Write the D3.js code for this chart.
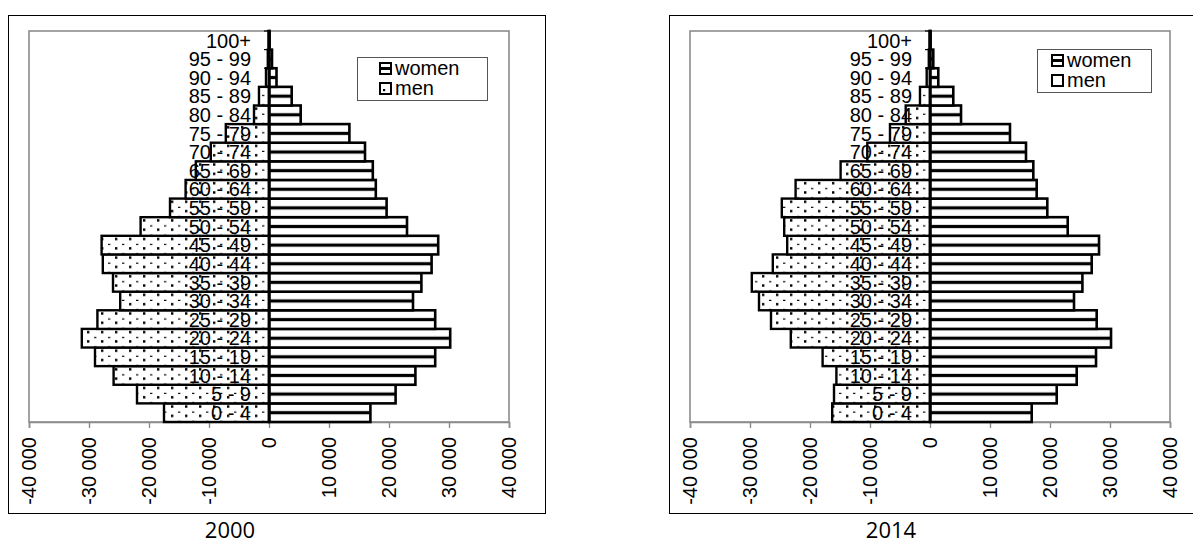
<!DOCTYPE html>
<html>
<head>
<meta charset="utf-8">
<script src="https://cdn.jsdelivr.net/npm/d3@7"></script>
<style>
  html, body { margin: 0; padding: 0; background: #fff; }
  svg { display: block; }
</style>
</head>
<body>
<svg id="chart" width="1193" height="545"></svg>
<script>
// ---- data ----
const ageGroups = ["0 - 4","5 - 9","10 - 14","15 - 19","20 - 24","25 - 29","30 - 34","35 - 39","40 - 44","45 - 49","50 - 54","55 - 59","60 - 64","65 - 69","70 - 74","75 - 79","80 - 84","85 - 89","90 - 94","95 - 99","100+"];
const men2000   = [17500,22000,25900,29000,31200,28600,24800,26000,27700,27900,21400,16500,13900,12200,9700,7200,2500,1670,500,200,80];
const women2000 = [16900,21100,24400,27700,30200,27700,24000,25400,27100,28200,23000,19600,17800,17300,16000,13400,5280,3780,1250,500,100];
const men2014   = [16300,16000,15600,17900,23200,26500,28500,29700,26200,23800,24300,24700,22400,14900,10450,6670,4050,1670,550,200,80];
const women2014 = [16950,21120,24450,27670,30170,27780,24000,25400,26950,28170,22950,19550,17780,17220,16000,13330,5170,3880,1380,550,100];
const xTicks = [-40000,-30000,-20000,-10000,0,10000,20000,30000,40000];
const years = ["2000","2014"];
const legendLabels = ["women","men"];

const svg = d3.select("#chart");
const defs = svg.append("defs");

// patterns
const bandH = (422 - 31) / 21;
const dots = defs.append("pattern").attr("id","dots").attr("patternUnits","userSpaceOnUse")
  .attr("width",14).attr("height",bandH/2).attr("y",31);
dots.append("rect").attr("width",14).attr("height",bandH/2).attr("fill","#fff");
dots.append("rect").attr("x",3).attr("y",2).attr("width",2.4).attr("height",2.4).attr("fill","#000");
dots.append("rect").attr("x",10).attr("y",2 + bandH/4 + 1.5).attr("width",2.4).attr("height",2.4).attr("fill","#000");

const stripes = defs.append("pattern").attr("id","stripes").attr("patternUnits","userSpaceOnUse")
  .attr("width",20).attr("height",bandH).attr("y",31);
stripes.append("rect").attr("width",20).attr("height",bandH).attr("fill","#fff");
stripes.append("rect").attr("x",0).attr("y",bandH/2 - 1.6).attr("width",20).attr("height",3.2).attr("fill","#000");

const legIconFill = [["url(#stripesL)","url(#dotsL)"],["url(#stripesL)","#fff"]];
const sl = defs.append("pattern").attr("id","stripesL").attr("patternUnits","objectBoundingBox")
  .attr("width",1).attr("height",1);
sl.append("rect").attr("width",12).attr("height",12).attr("fill","#fff");
sl.append("rect").attr("y",4).attr("width",12).attr("height",3).attr("fill","#000");
const dl = defs.append("pattern").attr("id","dotsL").attr("patternUnits","objectBoundingBox")
  .attr("width",1).attr("height",1);
dl.append("rect").attr("width",12).attr("height",12).attr("fill","#fff");
dl.append("rect").attr("x",3).attr("y",6).attr("width",2.2).attr("height",2.2).attr("fill","#000");

function drawChart(g, men, women, year, idx) {
  const plotL = 29, plotR = 509, plotT = 31, plotB = 422;
  const x = d3.scaleLinear().domain([-40000, 40000]).range([plotL, plotR]);
  const y = d3.scaleBand().domain(ageGroups.slice().reverse()).range([plotT, plotB]).padding(0);

  // outer frame
  g.append("rect").attr("x", 8.5).attr("y", 15.5).attr("width", 537).attr("height", 498)
    .attr("fill", "#fff").attr("stroke", "#000").attr("stroke-width", 1);
  // plot area border
  g.append("rect").attr("x", plotL).attr("y", plotT).attr("width", plotR - plotL).attr("height", plotB - plotT)
    .attr("fill", "#fff").attr("stroke", "#8c8c8c").attr("stroke-width", 1.6);

  // x axis (ticks only, line is plot border)
  const xAxis = d3.axisBottom(x).tickValues(xTicks).tickSize(6).tickFormat("");
  const ax = g.append("g").attr("transform", `translate(0,${plotB})`).call(xAxis);
  ax.select(".domain").attr("stroke", "#8c8c8c").attr("stroke-width", 1.6);
  ax.selectAll(".tick line").attr("stroke", "#8c8c8c").attr("stroke-width", 1.4);

  const fmt = v => (v < 0 ? "-" : "") + d3.format(",")(Math.abs(v)).replace(/,/g, " ");
  g.selectAll(".xlab").data(xTicks).enter().append("text")
    .attr("class", "xlab")
    .attr("transform", d => `translate(${x(d)},437) rotate(-90)`)
    .attr("text-anchor", "end")
    .attr("dy", "0.36em")
    .attr("font-family", "'Liberation Sans', Arial, sans-serif")
    .attr("font-size", 20)
    .attr("fill", "#000")
    .text(fmt);

  // men bars (left)
  g.selectAll(".men").data(ageGroups).enter().append("rect")
    .attr("x", (d, i) => x(-men[i]))
    .attr("y", d => y(d))
    .attr("width", (d, i) => x(0) - x(-men[i]))
    .attr("height", y.bandwidth())
    .attr("fill", "url(#dots)")
    .attr("stroke", "#000").attr("stroke-width", 2.4);

  // women bars (right)
  g.selectAll(".women").data(ageGroups).enter().append("rect")
    .attr("x", x(0))
    .attr("y", d => y(d))
    .attr("width", (d, i) => x(women[i]) - x(0))
    .attr("height", y.bandwidth())
    .attr("fill", "url(#stripes)")
    .attr("stroke", "#000").attr("stroke-width", 2.6);

  // category axis at zero
  const yAxis = d3.axisLeft(y).tickSize(0).tickFormat("");
  const ay = g.append("g").attr("transform", `translate(${x(0)},0)`).call(yAxis);
  ay.select(".domain").attr("stroke", "#000").attr("stroke-width", 2.4);
  g.selectAll(".ytick").data(ageGroups).enter().append("line")
    .attr("x1", x(0) - 5).attr("x2", x(0))
    .attr("y1", d => y(d)).attr("y2", d => y(d))
    .attr("stroke", "#000").attr("stroke-width", 1.2);

  // category labels
  g.selectAll(".ylab").data(ageGroups).enter().append("text")
    .attr("x", x(0) - 18)
    .attr("y", d => y(d) + y.bandwidth() / 2)
    .attr("dy", "0.36em")
    .attr("text-anchor", "end")
    .attr("font-family", "'Liberation Sans', Arial, sans-serif")
    .attr("font-size", 20)
    .attr("fill", "#000")
    .text(d => d);

  // legend
  const leg = idx === 0 ? {x: 357, y: 57, w: 130, h: 43, ix: 380, b1: 75} : {x: 376, y: 49, w: 114, h: 43, ix: 391, b1: 67};
  g.append("rect").attr("x", leg.x + 0.5).attr("y", leg.y + 0.5).attr("width", leg.w).attr("height", leg.h)
    .attr("fill", "#fff").attr("stroke", "#555").attr("stroke-width", 1);
  legendLabels.forEach((lab, j) => {
    const by = leg.b1 + j * 20;
    g.append("rect").attr("x", leg.ix).attr("y", by - 12).attr("width", 11).attr("height", 11)
      .attr("fill", legIconFill[idx][j]).attr("stroke", "#000").attr("stroke-width", 2);
    g.append("text").attr("x", leg.ix + 15).attr("y", by)
      .attr("font-family", "'Liberation Sans', Arial, sans-serif")
      .attr("font-size", 20).attr("fill", "#000").text(lab);
  });

  // year title
  g.append("text").attr("x", 230).attr("y", 538)
    .attr("text-anchor", "middle")
    .attr("font-family", "'Open Sans', Lato, sans-serif")
    .attr("font-size", 22).attr("fill", "#000").text(year);
}

drawChart(svg.append("g"), men2000, women2000, years[0], 0);
drawChart(svg.append("g").attr("transform", "translate(661,0)"), men2014, women2014, years[1], 1);
</script>
</body>
</html>
